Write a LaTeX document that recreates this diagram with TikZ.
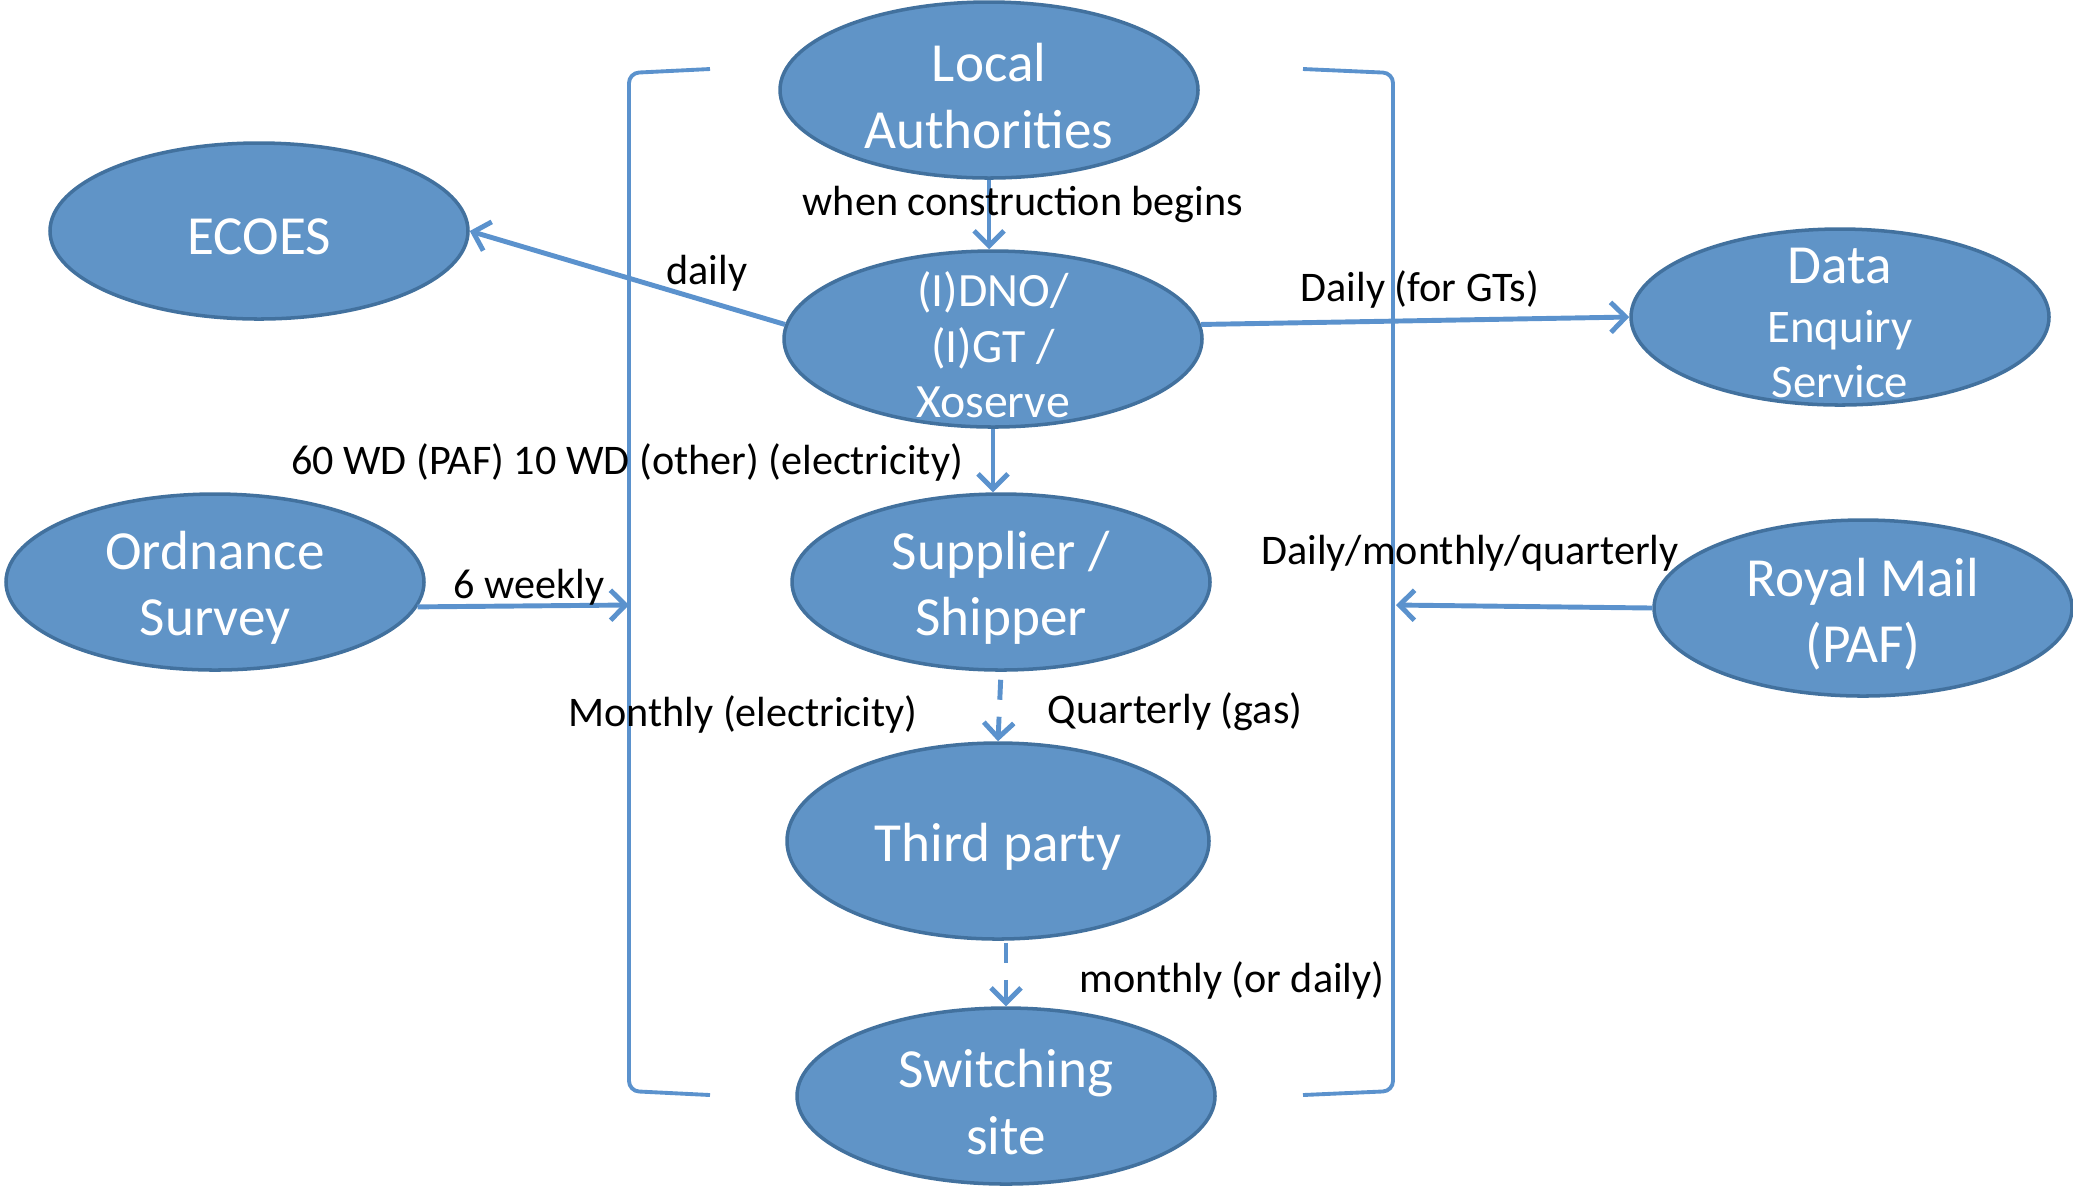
\documentclass[tikz,border=0pt]{standalone}
\usepackage{fontspec}
\setmainfont{Carlito}
\usepackage{xcolor}
\usetikzlibrary{shapes.geometric,arrows.meta}

\definecolor{blobfill}{RGB}{96,148,199}
\definecolor{blobedge}{RGB}{66,113,158}
\definecolor{linkblue}{RGB}{91,146,205}

\begin{document}
\begin{tikzpicture}
\tikzstyle{every node}+=[inner sep=0pt]
\tikzstyle{blob}=[ellipse, draw=blobedge, fill=blobfill, line width=1pt, minimum width=4.18cm, minimum height=1.76cm]
\tikzstyle{blobtext}=[text=white, align=center, yshift=-0.06cm, font=\fontsize{15.7}{18.8}\selectfont]
\tikzstyle{lbl}=[yshift=-0.03cm, font=\fontsize{12}{14.4}\selectfont]
\tikzstyle{link}=[draw=linkblue, line width=1.4pt, -{Straight Barb[length=1.5mm,width=3mm]}]
\tikzstyle{dlink}=[link, dash pattern=on 0.2cm off 0.17cm]
\tikzstyle{bracket}=[draw=linkblue, line width=1.1pt, rounded corners=0.1cm]
\useasboundingbox (0,0) rectangle (20.73,-11.85);
% the ellipses
\node [blob] (la) at (9.89,-0.90) {};
\node [blob] (ecoes) at (2.59,-2.31) {};
\node [blob] (dno) at (9.93,-3.39) {};
\node [blob] (des) at (18.40,-3.17) {};
\node [blob] (sup) at (10.01,-5.82) {};
\node [blob] (os) at (2.15,-5.82) {};
\node [blob] (rm) at (18.63,-6.08) {};
\node [blob, minimum width=4.22cm, minimum height=1.96cm] (third) at (9.98,-8.41) {};
\node [blob] (sw) at (10.06,-10.96) {};
\node [blobtext] (latext) at (la) {Local\\Authorities};
\node [blobtext] (ecoestext) at (ecoes) {ECOES};
\node [blobtext, font=\fontsize{13.6}{15.8}\selectfont] (dnotext) at (dno) {(I)DNO/\\(I)GT /\\Xoserve};
\node [blobtext, font=\fontsize{13.3}{15.8}\selectfont] (destext) at (des) {{\fontsize{15.7}{15.8}\selectfont Data}\\[1pt]Enquiry\\Service};
\node [blobtext] (suptext) at (sup) {Supplier /\\Shipper};
\node [blobtext] (ostext) at (os) {Ordnance\\Survey};
\node [blobtext] (rmtext) at (rm) {Royal Mail\\(PAF)};
\node [blobtext] (thirdtext) at (third) {Third party};
\node [blobtext] (swtext) at (sw) {Switching\\site};
% brackets
\draw [bracket] (7.10,-0.69) -- (6.29,-0.73) -- (6.29,-10.91) -- (7.10,-10.95);
\draw [bracket] (13.03,-0.69) -- (13.93,-0.73) -- (13.93,-10.91) -- (13.03,-10.95);
\coordinate (lbr) at (6.29,-6.05);
\coordinate (rbr) at (13.96,-6.05);
% connectors
\draw [link] (la.south) -- (la.south |- dno.north);
\draw [link] (dno.176) -- (ecoes.east);
\draw [link] (dno.4) -- (des.west);
\draw [link] (dno.south) -- (dno.south |- sup.north);
\draw [link] (os.-7) -- (lbr);
\draw [link] (rm.west) -- (rbr);
\draw [dlink, shorten <=0.08cm] (sup.south) -- (third.north);
\draw [dlink, shorten <=0.02cm] (sw.north |- third.south) -- (sw.north);
% labels
\node [lbl] (lconstr) at (10.23,-2.01) {when construction begins};
\node [lbl] (ldaily) at (7.07,-2.70) {daily};
\node [lbl] (lgts) at (14.20,-2.86) {Daily (for GTs)};
\node [lbl] (lwd) at (6.27,-4.59) {60 WD (PAF) 10 WD (other) (electricity)};
\node [lbl] (lweekly) at (5.29,-5.84) {6 weekly};
\node [lbl] (lpaf) at (14.70,-5.50) {Daily/monthly/quarterly};
\node [lbl] (lmonthly) at (7.43,-7.11) {Monthly (electricity)};
\node [lbl] (lgas) at (11.75,-7.09) {Quarterly (gas)};
\node [lbl] (lswitch) at (12.32,-9.77) {monthly (or daily)};
\end{tikzpicture}
\end{document}
